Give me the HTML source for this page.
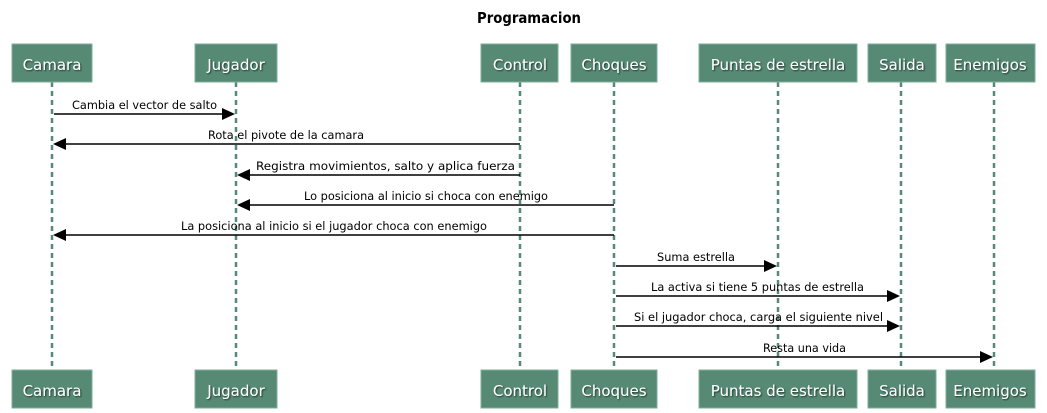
<!DOCTYPE html>
<html><head><meta charset="utf-8"><style>
html,body{margin:0;padding:0;background:#fff;}
svg{display:block;font-family:"DejaVu Sans","Liberation Sans",sans-serif;}
.b{fill:#568a74;stroke:#7fae9a;stroke-width:1}
.bt{fill:#fff;font-size:15px;text-anchor:middle}
.l{stroke:#568a74;stroke-width:2.5;stroke-dasharray:5,4}
.a{stroke:#000;stroke-width:1.6}
.t{font-size:11.5px;fill:#000}
</style></head><body>
<svg width="1047" height="413" viewBox="0 0 1047 413">
<defs><filter id="s"><feDropShadow dx="1" dy="1" stdDeviation="0.8" flood-color="#000" flood-opacity="0.6"/></filter></defs>
<text x="477" y="23" font-size="15" font-weight="bold" textLength="104" lengthAdjust="spacingAndGlyphs">Programacion</text>
<g>
<line class="l" x1="52" y1="82" x2="52" y2="370"/>
<line class="l" x1="236" y1="82" x2="236" y2="370"/>
<line class="l" x1="520" y1="82" x2="520" y2="370"/>
<line class="l" x1="614" y1="82" x2="614" y2="370"/>
<line class="l" x1="778" y1="82" x2="778" y2="370"/>
<line class="l" x1="901" y1="82" x2="901" y2="370"/>
<line class="l" x1="994" y1="82" x2="994" y2="370"/>
</g>
<g id="boxes">
<rect class="b" x="12" y="44" width="80" height="38"/><text class="bt" filter="url(#s)" x="52" y="70">Camara</text>
<rect class="b" x="195" y="44" width="82" height="38"/><text class="bt" filter="url(#s)" x="236" y="70">Jugador</text>
<rect class="b" x="481" y="44" width="77" height="38"/><text class="bt" filter="url(#s)" x="520" y="70">Control</text>
<rect class="b" x="571" y="44" width="86" height="38"/><text class="bt" filter="url(#s)" x="614" y="70">Choques</text>
<rect class="b" x="699" y="44" width="158" height="38"/><text class="bt" filter="url(#s)" x="778" y="70">Puntas de estrella</text>
<rect class="b" x="868" y="44" width="68" height="38"/><text class="bt" filter="url(#s)" x="902" y="70">Salida</text>
<rect class="b" x="946" y="44" width="89" height="38"/><text class="bt" filter="url(#s)" x="990" y="70">Enemigos</text>
</g>
<g transform="translate(0,326)">
<rect class="b" x="12" y="44" width="80" height="38"/><text class="bt" filter="url(#s)" x="52" y="70">Camara</text>
<rect class="b" x="195" y="44" width="82" height="38"/><text class="bt" filter="url(#s)" x="236" y="70">Jugador</text>
<rect class="b" x="481" y="44" width="77" height="38"/><text class="bt" filter="url(#s)" x="520" y="70">Control</text>
<rect class="b" x="571" y="44" width="86" height="38"/><text class="bt" filter="url(#s)" x="614" y="70">Choques</text>
<rect class="b" x="699" y="44" width="158" height="38"/><text class="bt" filter="url(#s)" x="778" y="70">Puntas de estrella</text>
<rect class="b" x="868" y="44" width="68" height="38"/><text class="bt" filter="url(#s)" x="902" y="70">Salida</text>
<rect class="b" x="946" y="44" width="89" height="38"/><text class="bt" filter="url(#s)" x="990" y="70">Enemigos</text>
</g>
<line class="a" x1="54" y1="114" x2="224" y2="114"/><polygon points="222,108 235,114 222,120"/>
<text class="t" x="72" y="109" textLength="145" lengthAdjust="spacingAndGlyphs">Cambia el vector de salto</text>
<line class="a" x1="520" y1="144" x2="64" y2="144"/><polygon points="66,138 53,144 66,150"/>
<text class="t" x="208" y="139" textLength="156" lengthAdjust="spacingAndGlyphs">Rota el pivote de la camara</text>
<line class="a" x1="520" y1="175" x2="248" y2="175"/><polygon points="250,169 237,175 250,181"/>
<text class="t" x="256" y="170" textLength="259" lengthAdjust="spacingAndGlyphs">Registra movimientos, salto y aplica fuerza</text>
<line class="a" x1="614" y1="205" x2="248" y2="205"/><polygon points="250,199 237,205 250,211"/>
<text class="t" x="304" y="200" textLength="244" lengthAdjust="spacingAndGlyphs">Lo posiciona al inicio si choca con enemigo</text>
<line class="a" x1="614" y1="235" x2="64" y2="235"/><polygon points="66,229 53,235 66,241"/>
<text class="t" x="181" y="230" textLength="306" lengthAdjust="spacingAndGlyphs">La posiciona al inicio si el jugador choca con enemigo</text>
<line class="a" x1="616" y1="266" x2="766" y2="266"/><polygon points="764,260 777,266 764,272"/>
<text class="t" x="657" y="261" textLength="78" lengthAdjust="spacingAndGlyphs">Suma estrella</text>
<line class="a" x1="616" y1="296" x2="889" y2="296"/><polygon points="887,290 900,296 887,302"/>
<text class="t" x="651" y="291" textLength="213" lengthAdjust="spacingAndGlyphs">La activa si tiene 5 puntas de estrella</text>
<line class="a" x1="616" y1="326" x2="889" y2="326"/><polygon points="887,320 900,326 887,332"/>
<text class="t" x="634" y="321" textLength="249" lengthAdjust="spacingAndGlyphs">Si el jugador choca, carga el siguiente nivel</text>
<line class="a" x1="616" y1="357" x2="982" y2="357"/><polygon points="980,351 993,357 980,363"/>
<text class="t" x="763" y="352" textLength="83" lengthAdjust="spacingAndGlyphs">Resta una vida</text>
</svg>
</body></html>
